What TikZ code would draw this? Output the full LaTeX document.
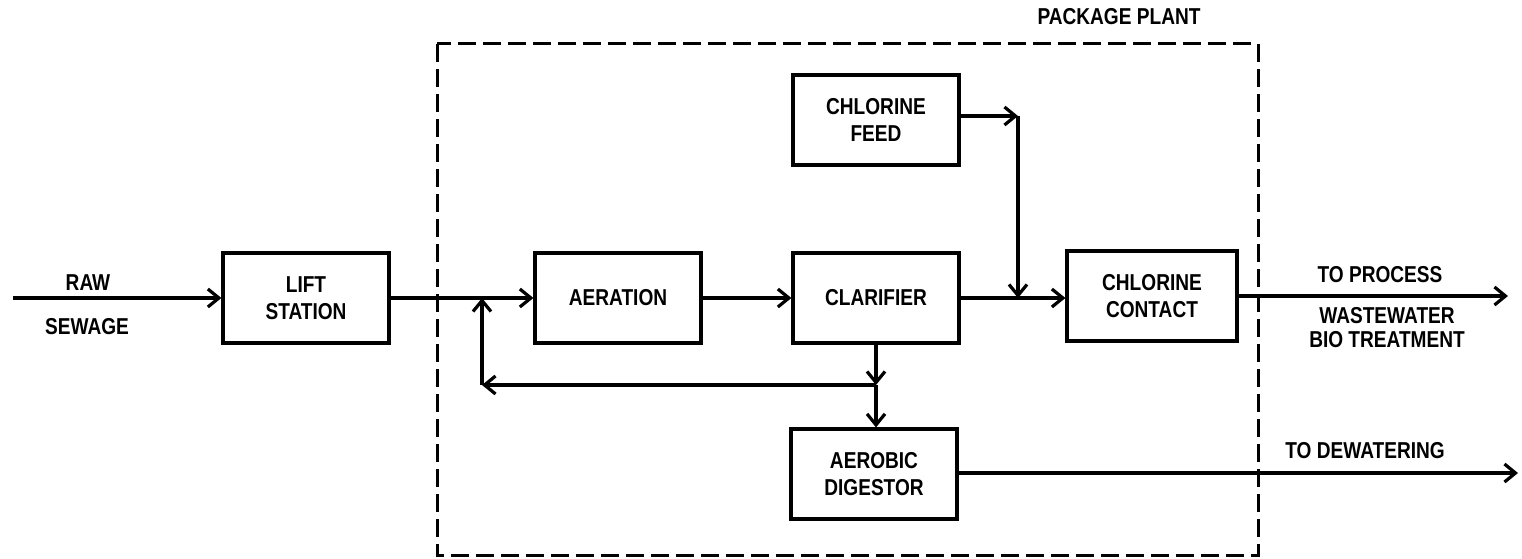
\documentclass[tikz,border=0pt]{standalone}
\usepackage{fontspec}
\setmainfont{Liberation Sans}[FakeStretch=0.83]
\usetikzlibrary{arrows.meta}

\tikzset{
  unit/.style={draw, line width=3.2pt, minimum width=166pt, minimum height=90pt,
    align=center, inner sep=0pt, font=\fontsize{23}{27}\selectfont\bfseries},
  flow/.style={line width=3.2pt, -{Straight Barb[length=11pt,width=18pt,line width=3.2pt]}},
  lbl/.style={align=center, inner sep=0pt, font=\fontsize{23}{24}\selectfont\bfseries}
}

\begin{document}
\begin{tikzpicture}[x=1pt,y=-1pt]
\useasboundingbox (0,0) rectangle (1522,559);

% -------------------------------------------------
% Package plant boundary
% -------------------------------------------------
\draw[line width=3pt, dash pattern=on 18pt off 7pt] (437,44) rectangle (1258,555);
\node[lbl] (plant) at (1119,17) {PACKAGE PLANT};

% -------------------------------------------------
% Process units
% -------------------------------------------------
\node[unit] (lift)    at (306,298)  {LIFT\\STATION};
\node[unit] (aer)     at (618,298)  {AERATION};
\node[unit] (clar)    at (876,298)  {CLARIFIER};
\node[unit] (feed)    at (876,120)  {CHLORINE\\FEED};
\node[unit, minimum width=170pt] (contact) at (1152,296) {CHLORINE\\CONTACT};
\node[unit] (digest)  at (874,474)  {AEROBIC\\DIGESTOR};

% -------------------------------------------------
% Junctions and free ends
% -------------------------------------------------
\coordinate (rawin)   at (13,298);
\coordinate (retjn)   at (482,298);
\coordinate (retcor)  at (482,385);
\coordinate (split)   at (876,385);
\coordinate (feedcor) at (1018,116);
\coordinate (feedjn)  at (1018,298);
\coordinate (procout) at (1508,296);
\coordinate (dewout)  at (1518,473);

% -------------------------------------------------
% Flows
% -------------------------------------------------
\draw[flow] (rawin) -- (lift.west);
\draw[flow] (lift.east) -- (aer.west);
\draw[flow] (aer.east) -- (clar.west);
\draw[flow] (clar.south) -- (split);
\draw[flow] (split) -- (split |- digest.north);
\draw[flow] (split) -- (retcor);
\draw[flow] (retcor) -- (retjn);
\draw[flow] (feed.east |- feedcor) -- (feedcor);
\draw[flow] (feedcor) -- (feedjn);
\draw[flow] (clar.east) -- (contact.west |- clar.east);
\draw[flow] (contact.east) -- (procout);
\draw[flow] (digest.east |- dewout) -- (dewout);

% -------------------------------------------------
% Labels
% -------------------------------------------------
\node[lbl] (raw)    at (88,283)   {RAW};
\node[lbl] (sewage) at (87,327)   {SEWAGE};
\node[lbl] (proc)   at (1380,275) {TO PROCESS};
\node[lbl] (bio)    at (1387,328) {WASTEWATER\\BIO TREATMENT};
\node[lbl] (dew)    at (1365,451) {TO DEWATERING};

\end{tikzpicture}
\end{document}
